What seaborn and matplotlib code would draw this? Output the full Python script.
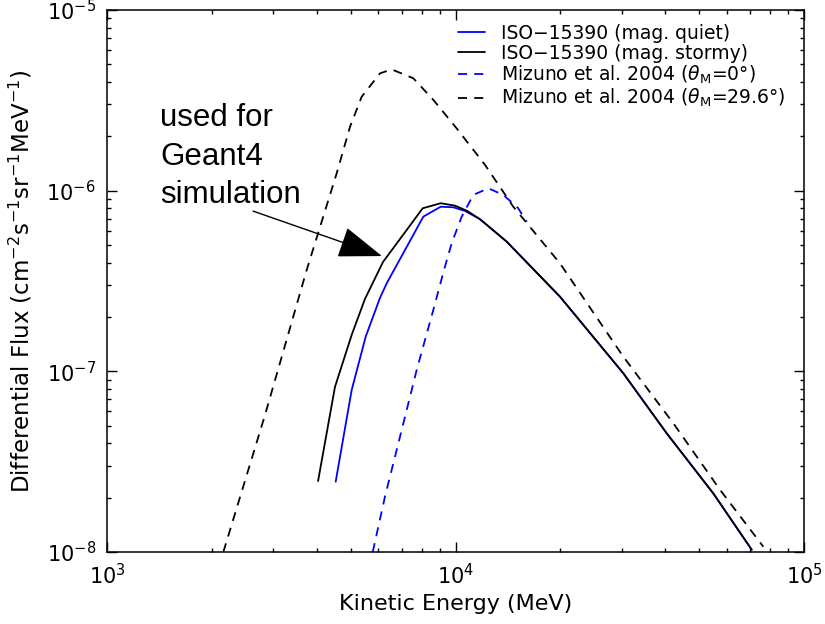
import numpy as np
import pandas as pd
import matplotlib
matplotlib.use("Agg")
import matplotlib.pyplot as plt
import seaborn as sns
from matplotlib.ticker import LogLocator, NullFormatter

# ISO-15390 proton spectrum, magnetically quiet conditions
quiet_energy = [4531, 5036, 5525, 6072, 6347, 8084, 9069, 9856, 10650,
                11758, 14030, 19940, 30300, 40360, 54920, 70780]
quiet_flux = [2.45e-8, 7.88e-8, 1.556e-7, 2.55e-7, 3.07e-7, 7.18e-7, 8.15e-7,
              8.09e-7, 7.72e-7, 6.95e-7, 5.22e-7, 2.59e-7, 9.76e-8, 4.54e-8,
              2.11e-8, 1.03e-8]

# ISO-15390 proton spectrum, magnetically stormy conditions
stormy_energy = [4033, 4510, 5036, 5500, 6194, 7244, 8052, 9069, 9967, 10769,
                 11758, 14030, 19940, 30300, 40360, 54920, 70780]
stormy_flux = [2.47e-8, 8.20e-8, 1.59e-7, 2.52e-7, 4.03e-7, 6.06e-7, 7.99e-7,
               8.52e-7, 8.26e-7, 7.75e-7, 6.95e-7, 5.22e-7, 2.59e-7, 9.76e-8,
               4.54e-8, 2.11e-8, 1.03e-8]

# Mizuno et al. 2004, theta_M = 0 deg (above ~16 GeV it coincides with the 29.6 deg curve)
miz0_energy = [5787, 6277, 6931, 7739, 8638, 9268, 9752, 10418, 11248, 12420,
               13716, 15113, 16010]
miz0_flux = [1.0e-8, 2.03e-8, 4.35e-8, 1.018e-7, 2.19e-7, 3.64e-7, 5.12e-7,
             7.18e-7, 9.47e-7, 1.031e-6, 9.47e-7, 8.02e-7, 6.73e-7]

# Mizuno et al. 2004, theta_M = 29.6 deg
miz30_energy = [2157, 2841, 3741, 4561, 4982, 5380, 6072, 6560, 7566, 8638,
                10080, 12150, 14650, 19940, 30300, 42170, 57410, 76420]
miz30_flux = [1.0e-8, 5.74e-8, 3.64e-7, 1.248e-6, 2.26e-6, 3.31e-6, 4.46e-6,
              4.69e-6, 4.19e-6, 3.18e-6, 2.21e-6, 1.39e-6, 8.15e-7, 3.96e-7,
              1.206e-7, 5.16e-8, 2.21e-8, 1.07e-8]

labels = ["ISO\u221215390 (mag. quiet)",
          "ISO\u221215390 (mag. stormy)",
          r"Mizuno et al. 2004 ($\theta_{\mathsf{M}}$=0°)",
          r"Mizuno et al. 2004 ($\theta_{\mathsf{M}}$=29.6°)"]

sns.set_theme(style="white")
plt.rcParams["font.family"] = ["DejaVu Sans"]
plt.rcParams["mathtext.fontset"] = "dejavusans"
plt.rcParams["text.color"] = "black"
plt.rcParams["axes.labelcolor"] = "black"
plt.rcParams["xtick.color"] = "black"
plt.rcParams["ytick.color"] = "black"

fig = plt.figure(figsize=(8.25, 6.24), dpi=100)
ax = fig.add_axes([107 / 825, 1 - 552 / 624, 697 / 825, 542 / 624])

series = [
    (quiet_energy, quiet_flux, "#0000ff", "-"),
    (stormy_energy, stormy_flux, "black", "-"),
    (miz0_energy, miz0_flux, "#0000ff", (0, (5, 4))),
    (miz30_energy, miz30_flux, "black", (0, (5, 4))),
]
for (e, f, c, ls), lab in zip(series, labels):
    df = pd.DataFrame({"energy": e, "flux": f})
    sns.lineplot(data=df, x="energy", y="flux", ax=ax, color=c, linewidth=1.3,
                 sort=False, estimator=None, label=lab)
    ax.lines[-1].set_linestyle(ls)

ax.set_xscale("log")
ax.set_yscale("log")
ax.set_xlim(1e3, 1e5)
ax.set_ylim(1e-8, 1e-5)

ax.xaxis.set_major_locator(LogLocator(base=10, numticks=10))
ax.xaxis.set_minor_locator(LogLocator(base=10, subs=np.arange(2, 10), numticks=20))
ax.yaxis.set_major_locator(LogLocator(base=10, numticks=10))
ax.yaxis.set_minor_locator(LogLocator(base=10, subs=np.arange(2, 10), numticks=20))
ax.xaxis.set_minor_formatter(NullFormatter())
ax.yaxis.set_minor_formatter(NullFormatter())

ax.tick_params(which="both", direction="in", top=True, right=True,
               bottom=True, left=True, color="black", width=1.0)
ax.tick_params(which="major", length=7, labelsize=15, pad=8)
ax.tick_params(which="minor", length=3.2)
for s in ax.spines.values():
    s.set_color("black")
    s.set_linewidth(1.1)

ax.set_xlabel("Kinetic Energy (MeV)", fontsize=16, labelpad=4)
ax.set_ylabel(r"Differential Flux (cm$^{-2}$s$^{-1}$sr$^{-1}$MeV$^{-1}$)",
              fontsize=16.5, labelpad=9)

leg = ax.legend(handles=ax.lines, labels=labels, loc="upper right",
                bbox_to_anchor=(0.99, 0.995), frameon=False, fontsize=13.5,
                handlelength=1.4, handletextpad=0.9, labelspacing=0.05,
                borderaxespad=0.2)

ax.text(0.076, 0.828, "used for\nGeant4\nsimulation", transform=ax.transAxes,
        fontsize=22.5, family="Liberation Sans", va="top", ha="left",
        linespacing=1.36, color="black")
ax.annotate("", xy=(0.3945, 0.546), xycoords="axes fraction",
            xytext=(0.2095, 0.629), textcoords="axes fraction",
            arrowprops=dict(arrowstyle="-|>,head_length=1.4,head_width=0.5",
                            mutation_scale=20, lw=1.0, color="black",
                            shrinkA=0, shrinkB=0))

fig.savefig("out.png", dpi=100, facecolor="white")
